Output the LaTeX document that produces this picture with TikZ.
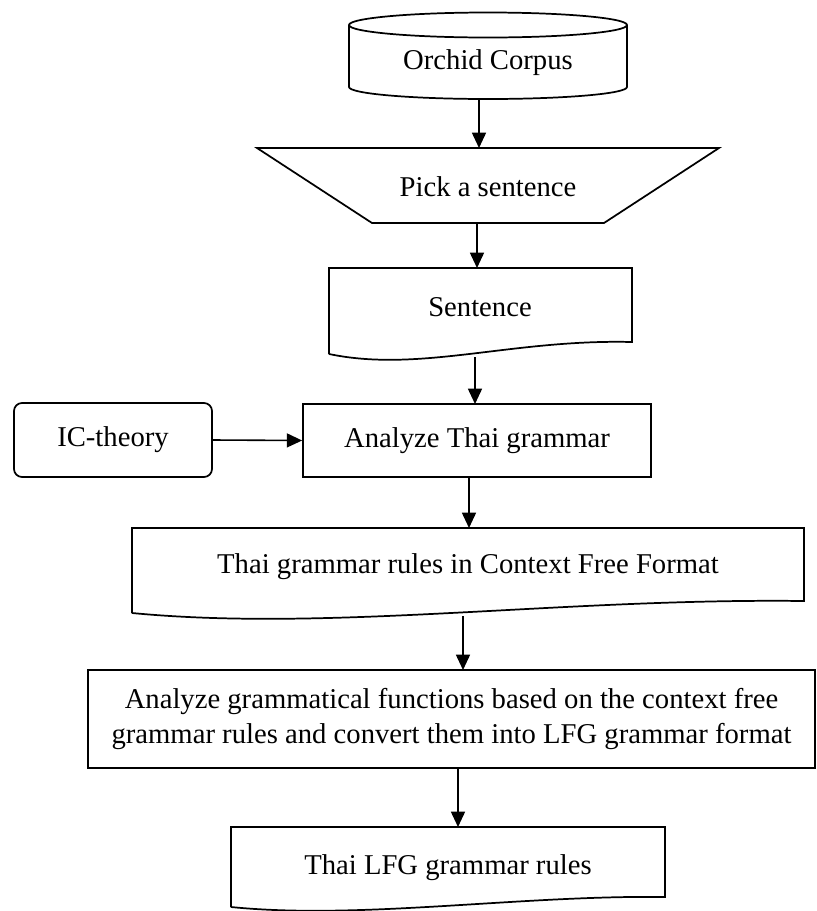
\documentclass[tikz,border=0pt]{standalone}
\usepackage{fontspec}
\setmainfont{Liberation Serif}
\usetikzlibrary{arrows.meta}
\begin{document}
\begin{tikzpicture}[x=0.75pt,y=-0.75pt,
  outline/.style={draw=black, line width=1.3pt, line join=miter},
  txt/.style={font=\fontsize{21.5}{25.8}\selectfont, inner sep=0pt, align=center},
  flow/.style={draw=black, line width=1.2pt, -{Triangle[length=11.5pt,width=10.5pt]}}]
\useasboundingbox (0,0) rectangle (817,911);

% Orchid Corpus: stored data cylinder
\draw[outline] (349,25) -- (349,87)
  .. controls (349,93.6) and (410.5,99) .. (488,99)
  .. controls (565.5,99) and (627,93.6) .. (627,87) -- (627,25);
\draw[outline] (488,25) ellipse[x radius=139,y radius=12.5];
\node[txt] (corpus) at (488,63) {Orchid Corpus};
\coordinate (corpusOut) at (479,99);

% Pick a sentence: manual operation trapezoid
\draw[outline] (257,148) -- (719,148) -- (604,223) -- (372,223) -- cycle;
\node[txt] (pick) at (488,187) {Pick a sentence};
\coordinate (pickIn) at (479,148);
\coordinate (pickOut) at (477,223);

% Sentence: document
\draw[outline] (329,354) -- (329,268) -- (632,268) -- (632,342)
  .. controls (511,339) and (420,373) .. (329,354);
\node[txt] (sent) at (480,307) {Sentence};
\coordinate (sentIn) at (477,268);
\coordinate (sentOut) at (475,357);

% IC-theory and grammar analysis
\node[outline, txt, rounded corners=6pt, minimum width=148.5pt, minimum height=55.5pt] (ic) at (113,440) {IC-theory};
\node[outline, txt, minimum width=261pt, minimum height=55pt] (ana) at (477,440.5) {Analyze Thai grammar};
\coordinate (anaIn) at (475,404);
\coordinate (anaOut) at (469,477);

% Context free rules: document
\draw[outline] (132,613) -- (132,528) -- (804,528) -- (804,601)
  .. controls (560,598) and (330,632) .. (132,613);
\node[txt] (cfg) at (468,567) {Thai grammar rules in Context Free Format};
\coordinate (cfgIn) at (469,528);
\coordinate (cfgOut) at (463,616);

% Grammatical function analysis
\node[outline, txt, minimum width=545pt, minimum height=73.5pt] (gf) at (451.5,719)
  {Analyze grammatical functions based on the context free\\grammar rules and convert them into LFG grammar format};
\coordinate (gfIn) at (463,670);
\coordinate (gfOut) at (458,768);

% Thai LFG grammar rules: document
\draw[outline] (231,907) -- (231,827) -- (665,827) -- (665,897)
  .. controls (520,895) and (360,920) .. (231,907);
\node[txt] (lfg) at (448,868) {Thai LFG grammar rules};
\coordinate (lfgIn) at (458,827);

% Flow lines
\draw[flow] (corpusOut) -- (pickIn);
\draw[flow] (pickOut) -- (sentIn);
\draw[flow] (sentOut) -- (anaIn);
\draw[flow] (ic.east) -- (ana.west);
\draw[flow] (anaOut) -- (cfgIn);
\draw[flow] (cfgOut) -- (gfIn);
\draw[flow] (gfOut) -- (lfgIn);
\end{tikzpicture}
\end{document}
